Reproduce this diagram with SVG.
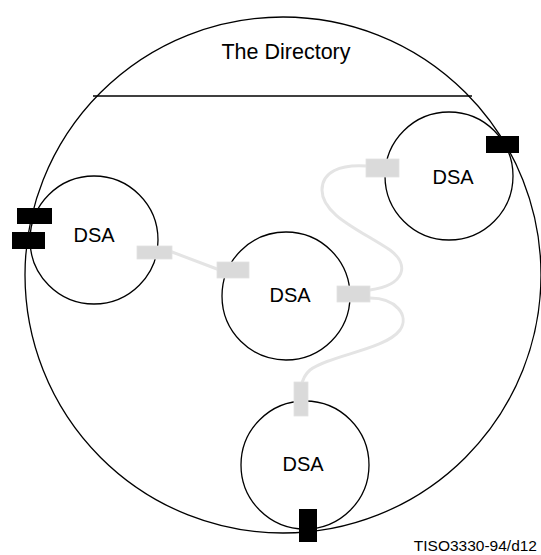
<svg xmlns="http://www.w3.org/2000/svg" width="541" height="555" viewBox="0 0 541 555">
<style>
.ring{fill:none;stroke:#000;stroke-width:1.3}
.lbl{font-family:"Liberation Sans",Arial,sans-serif;font-size:20px;fill:#000;text-anchor:middle}
.title{font-size:21.5px}
.foot{font-size:15.5px;text-anchor:end}
.port{fill:#dadada;stroke:#e2e2e2;stroke-width:0.8}
.blk{fill:#000}
.link{fill:none;stroke:#e4e4e4;stroke-width:3;stroke-linecap:round}
</style>
<rect width="541" height="555" fill="#fff"/>
<g id="directory">
<circle class="ring" cx="283" cy="275" r="258"/>
<line x1="93" y1="96" x2="472" y2="96" stroke="#000" stroke-width="1.6"/>
<text class="lbl title" x="286" y="59">The Directory</text>
</g>
<g id="connectors">
<path class="link" d="M172,252 L217,269"/>
<path class="link" d="M367,166 C340,164 322,172 322,190 C322,215 360,230 390,250 C410,265 405,285 370,290"/>
<path class="link" d="M370,298 C395,298 410,315 400,330 C385,350 330,355 310,370 C298,380 300,400 300,410"/>
</g>
<g id="dsa-left">
<circle class="ring" cx="94" cy="240" r="64"/>
<text class="lbl" x="94" y="242">DSA</text>
<rect class="blk" x="17" y="208" width="35" height="16"/>
<rect class="blk" x="12" y="232" width="33" height="17"/>
<rect class="port" x="137" y="246" width="35" height="13"/>
</g>
<g id="dsa-center">
<circle class="ring" cx="286" cy="296" r="64"/>
<text class="lbl" x="290" y="302">DSA</text>
<rect class="port" x="217" y="262" width="32" height="16"/>
<rect class="port" x="337" y="286" width="33" height="16"/>
</g>
<g id="dsa-right">
<circle class="ring" cx="449" cy="176" r="64"/>
<text class="lbl" x="453" y="184">DSA</text>
<rect class="blk" x="486" y="136" width="33" height="17"/>
<rect class="port" x="366" y="159" width="33" height="18"/>
</g>
<g id="dsa-bottom">
<circle class="ring" cx="305" cy="465" r="64"/>
<text class="lbl" x="303" y="471">DSA</text>
<rect class="port" x="294" y="382" width="14" height="34"/>
<rect class="blk" x="299" y="509" width="18" height="33"/>
</g>
<text class="lbl foot" x="537" y="551">TISO3330-94/d12</text>
</svg>
